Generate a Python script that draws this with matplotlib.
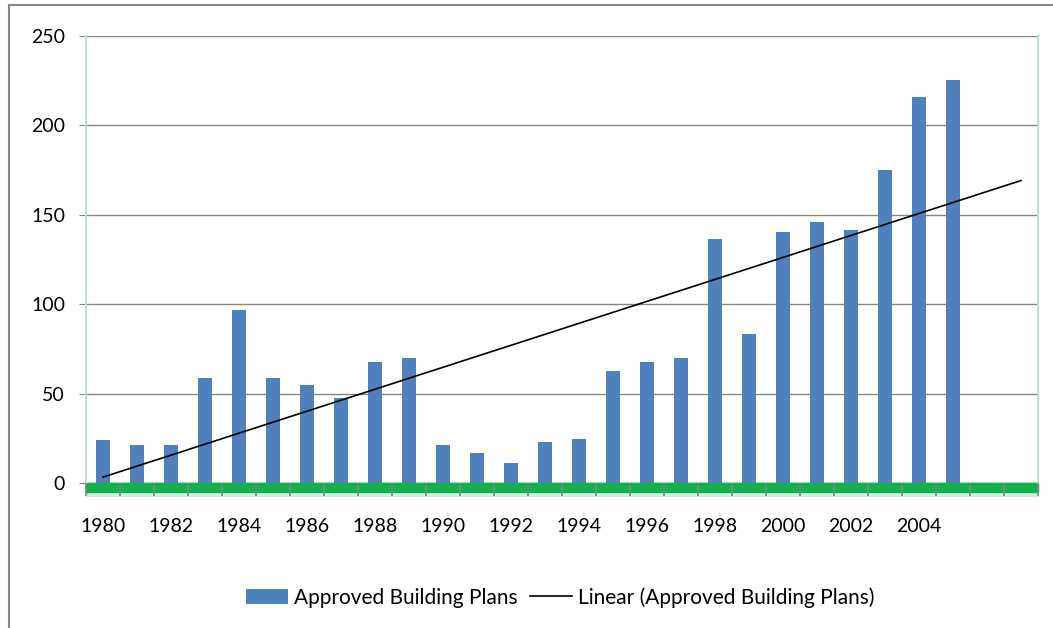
import numpy as np
import matplotlib.pyplot as plt
from matplotlib.lines import Line2D
from matplotlib.patches import Rectangle

# данные
years = list(range(1980, 2006))
plans = [24, 21, 21, 59, 97, 59, 55, 47.5, 67.7, 70,
         21, 17, 11, 23, 24.6, 62.6, 67.7, 70, 136.5, 83.3,
         140.4, 146, 141.5, 175, 216, 225.4]
extra_years = [2006, 2007]  # пустые категории, куда продлён тренд
tick_years = list(range(1980, 2005, 2))

plt.rcParams['font.family'] = ['Lato', 'DejaVu Sans']

bar_col = '#4F81BD'
grid_col = '#868686'
green = '#14B04E'

fig = plt.figure(figsize=(10.53, 6.28), dpi=100)
ax = fig.add_axes([86/1053, 1-483/628, (1038-86)/1053, (483-36)/628])

x = np.arange(len(years))
bars = ax.bar(x, plans, width=0.4, color=bar_col, zorder=3)

# линейный тренд как в excel, с прогнозом на 2 периода вперед
k, b = np.polyfit(x, plans, 1)
xt = np.arange(len(years) + len(extra_years))
trend, = ax.plot(xt, k*xt + b, color='black', lw=1.2, zorder=4)

n = len(years) + len(extra_years)
ax.set_xlim(-0.5, n - 0.5)
ax.set_ylim(0, 250)
ax.set_yticks(range(0, 251, 50))
ax.yaxis.grid(True, color=grid_col, lw=1, zorder=0)
ax.set_axisbelow(True)

ax.set_xticks([years.index(y) for y in tick_years])
ax.set_xticklabels([str(y) for y in tick_years])
ax.set_xticks(np.arange(-0.5, n, 1), minor=True)
ax.tick_params(axis='x', which='major', length=0, pad=25, labelsize=14)
ax.tick_params(axis='x', which='minor', length=9, color='#6F8F7A', width=1.2)
ax.tick_params(axis='y', length=5, color=grid_col, pad=10, labelsize=14)
ax.xaxis.set_zorder(5)

for s in ['top', 'bottom']:
    ax.spines[s].set_visible(False)
ax.spines['left'].set_color('#B9E6C8')
ax.spines['right'].set_color('#B9E6C8')
ax.spines['left'].set_linewidth(1.5)
ax.spines['right'].set_linewidth(1.5)

# зеленая полоса под осью
ax.add_patch(Rectangle((0, -0.021), 1, 0.021, transform=ax.transAxes,
                       color=green, clip_on=False, zorder=1.5))
ax.add_patch(Rectangle((0, -0.03), 1, 0.03, transform=ax.transAxes,
                       color='#9FD9B2', alpha=0.4, clip_on=False, zorder=1))

# рамка вокруг всей диаграммы
fig.add_artist(Line2D([9/1053, 9/1053], [0, 1-5/628], color=grid_col, lw=1.5))
fig.add_artist(Line2D([9/1053, 1], [1-5/628, 1-5/628], color=grid_col, lw=1.5))

fig.legend([bars, trend], ['Approved Building Plans', 'Linear (Approved Building Plans)'],
           loc='center', bbox_to_anchor=(0.532, 0.049), ncol=2,
           frameon=False, fontsize=15, handlelength=2.0, handletextpad=0.3,
           columnspacing=0.6)

fig.savefig('out.png', dpi=100)
